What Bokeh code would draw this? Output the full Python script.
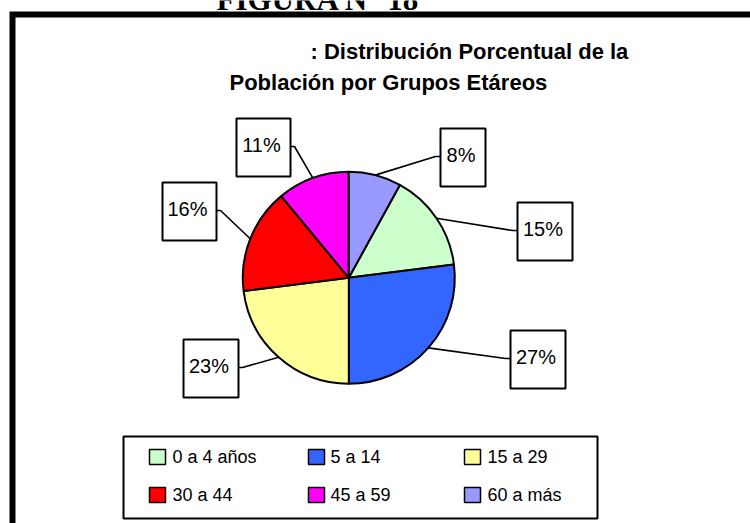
import math
from bokeh.plotting import figure
from bokeh.models import Range1d, ColumnDataSource
from bokeh.core.properties import value
from bokeh.embed import file_html
from bokeh.resources import INLINE

# ---------------- data ----------------
categories = ["0 a 4 años", "5 a 14", "15 a 29", "30 a 44", "45 a 59", "60 a más"]
values = [15, 27, 23, 16, 11, 8]
colors = ["#CCFFCC", "#3366FF", "#FFFF99", "#FF0000", "#FF00FF", "#9999FF"]

fig_label = "FIGURA N° 18"
title_line1 = ": Distribución Porcentual de la"
title_line2 = "Población por Grupos Etáreos"

# ---------------- layout (image pixel coords, y down) ----------------
W, H = 750, 523
cx, cy, R = 348.3, 277.3, 106
first_slice_deg = 28.8  # rotation of first slice, clockwise from 12 o'clock
TDY = 8  # text baseline correction

# label boxes: left, top, width, height ; side of attachment
box_left = [517, 510, 183, 162, 236, 440]
box_top = [202, 330, 339, 182, 118, 128]
box_w = [55, 55, 55, 54, 54, 45]
box_h = 58
box_attach_left = [True, True, False, False, False, True]

leg_left, leg_top, leg_right, leg_bottom = 123, 436, 597, 518
leg_sq_x = [149, 308, 464]
leg_sq_y = [449, 487]
leg_txt_x = [172, 330, 487]
leg_txt_base = [464, 502]

SANS = value("Liberation Sans")


def Y(y):
    return H - y


def TY(y):
    return H - (y - TDY)


p = figure(width=W, height=H, output_backend="svg", toolbar_location=None,
           x_range=Range1d(0, W), y_range=Range1d(0, H), min_border=0,
           x_axis_location=None, y_axis_location=None)
p.grid.visible = False
p.outline_line_color = None
p.background_fill_color = "white"
p.border_fill_color = "white"

# figure label (cut at top, as in the original)
p.text(x=[216], y=[TY(7)], text=[fig_label], text_font=value("Liberation Serif"),
       text_font_style="bold", text_font_size="31px", text_baseline="alphabetic",
       text_align="left", text_color="black")

# frame
p.line(x=[12, 12, 800], y=[Y(560), Y(14), Y(14)], line_color="black",
       line_width=6, line_join="miter")

# title
p.text(x=[310], y=[TY(59)], text=[title_line1], text_font=SANS,
       text_font_style="bold", text_font_size="22px", text_baseline="alphabetic",
       text_align="left", text_color="black")
p.text(x=[229], y=[TY(90)], text=[title_line2], text_font=SANS,
       text_font_style="bold", text_font_size="22px", text_baseline="alphabetic",
       text_align="left", text_color="black")

# pie
total = float(sum(values))
rot = math.radians(first_slice_deg)
starts, ends, mids = [], [], []
cum = 0.0
for v in values:
    a0 = math.pi / 2 - rot - 2 * math.pi * cum / total
    cum += v
    a1 = math.pi / 2 - rot - 2 * math.pi * cum / total
    starts.append(a0)
    ends.append(a1)
    mids.append((a0 + a1) / 2)

src = ColumnDataSource(dict(start=starts, end=ends, color=colors, cat=categories))
p.wedge(x=cx, y=Y(cy), radius=R, start_angle="start", end_angle="end",
        direction="clock", fill_color="color", line_color="black",
        line_width=2, source=src)

# leader lines
xs, ys = [], []
for i, m in enumerate(mids):
    ax = cx + R * math.cos(m)
    ay = Y(cy) + R * math.sin(m)
    ymid = box_top[i] + box_h / 2 - 1
    if box_attach_left[i]:
        ex = box_left[i]
        kx = ex - 5
    else:
        ex = box_left[i] + box_w[i]
        kx = ex + 4
    xs.append([ax, kx, ex])
    ys.append([ay, Y(ymid), Y(ymid)])
p.multi_line(xs=xs, ys=ys, line_color="black", line_width=1.6)

# label boxes
p.quad(left=box_left, right=[l + w for l, w in zip(box_left, box_w)],
       top=[Y(t) for t in box_top], bottom=[Y(t + box_h) for t in box_top],
       fill_color="white", line_color="black", line_width=2)
p.text(x=[l + w / 2 - 2 for l, w in zip(box_left, box_w)],
       y=[TY(t + 34) for t in box_top],
       text=[f"{v}%" for v in values], text_font=SANS, text_font_size="20px",
       text_align="center", text_baseline="alphabetic", text_color="black")

# legend
p.quad(left=[leg_left], right=[leg_right], top=[Y(leg_top)], bottom=[Y(leg_bottom)],
       fill_color="white", line_color="black", line_width=2)
sq_l, sq_t, tx, ty = [], [], [], []
for i in range(len(categories)):
    r, c = divmod(i, 3)
    sq_l.append(leg_sq_x[c])
    sq_t.append(leg_sq_y[r])
    tx.append(leg_txt_x[c])
    ty.append(TY(leg_txt_base[r]))
p.quad(left=sq_l, right=[x + 16 for x in sq_l], top=[Y(t) for t in sq_t],
       bottom=[Y(t + 15) for t in sq_t], fill_color=colors, line_color="black",
       line_width=1.5)
p.text(x=tx, y=ty, text=categories, text_font=SANS, text_font_size="18px",
       text_align="left", text_baseline="alphabetic", text_color="black")

open("out.html", "w").write(file_html(p, INLINE))
